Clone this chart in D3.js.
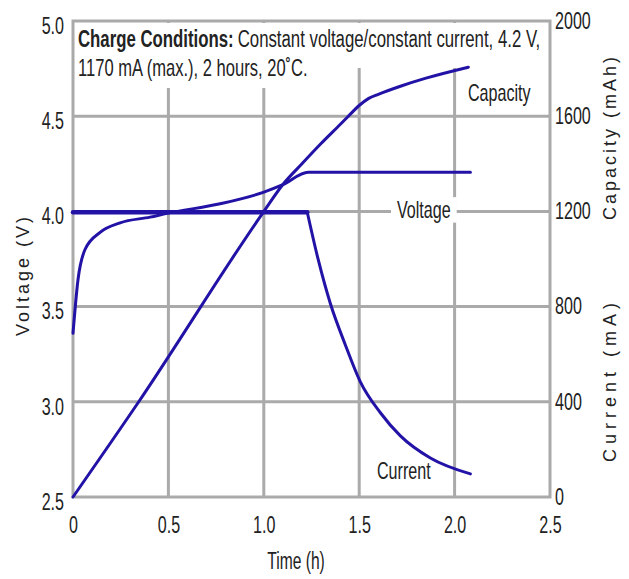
<!DOCTYPE html>
<html>
<head>
<meta charset="utf-8">
<script src="https://cdn.jsdelivr.net/npm/d3@7"></script>
<style>
  body { margin: 0; background: #fff; }
  text { font-family: "Liberation Sans", Arial, sans-serif; }
</style>
</head>
<body>
<script>
// Values
const timeTicks = [0, 0.5, 1.0, 1.5, 2.0, 2.5];
const voltTicks = [2.5, 3.0, 3.5, 4.0, 4.5, 5.0];
const mahTicks = [0, 400, 800, 1200, 1600, 2000];

// time (h) -> voltage (V)
const voltageT = [0, 0.026, 0.063, 0.142, 0.247, 0.404, 0.493, 0.771, 0.997, 1.10, 1.233, 2.083];
const voltageV = [3.36, 3.64, 3.80, 3.89, 3.94, 3.97, 3.99, 4.04, 4.10, 4.14, 4.205, 4.205];

// time (h) -> charge current (mA)
const currentT = [0, 1.228, 1.285, 1.348, 1.427, 1.506, 1.611, 1.716, 1.873, 2.083];
const currentI = [1196, 1196, 998, 815, 640, 484, 354, 257, 164, 97];

// time (h) -> capacity (mAh)
const capacityT = [0, 0.341, 0.997, 1.10, 1.2, 1.3, 1.4, 1.443, 1.5, 1.55, 1.6, 1.716, 1.85, 2.072];
const capacityC = [0, 396, 1196, 1313, 1400, 1485, 1565, 1600, 1645, 1675, 1692, 1726, 1760, 1806];

const W = 629, H = 579;
const LEFT = 73, RIGHT = 550, TOP = 21, BOTTOM = 497;
const LINE = '#2213a6';
const GRID = '#aaaaaa';
const INK = '#222';

const svg = d3.select('body').append('svg')
  .attr('width', W).attr('height', H);

const gridLayer = svg.append('g');
const bgLayer = svg.append('g');
const lineLayer = svg.append('g');
const textLayer = svg.append('g');

const x = d3.scaleLinear().domain([0, 2.5]).range([LEFT, RIGHT]);
const yV = d3.scaleLinear().domain([2.5, 5.0]).range([BOTTOM, TOP]);
const yMA = d3.scaleLinear().domain([0, 2000]).range([BOTTOM, TOP]);

// squeeze text horizontally around its anchor x (the original uses a condensed face)
function condense(sel, f) {
  sel.each(function() {
    const ax = +(this.getAttribute('x') || 0);
    d3.select(this).attr('transform', `translate(${ax * (1 - f)},0) scale(${f},1)`);
  });
  return sel;
}

// grid
gridLayer.selectAll('line.h')
  .data(voltTicks.slice(1, -1))
  .enter().append('line')
    .attr('x1', LEFT).attr('x2', RIGHT)
    .attr('y1', d => yV(d)).attr('y2', d => yV(d))
    .attr('stroke', GRID).attr('stroke-width', 3);
gridLayer.selectAll('line.v')
  .data(timeTicks.slice(1, -1))
  .enter().append('line')
    .attr('y1', TOP).attr('y2', BOTTOM)
    .attr('x1', d => x(d)).attr('x2', d => x(d))
    .attr('stroke', GRID).attr('stroke-width', 3);
gridLayer.append('rect')
  .attr('x', LEFT).attr('y', TOP)
  .attr('width', RIGHT - LEFT).attr('height', BOTTOM - TOP)
  .attr('fill', 'none').attr('stroke', GRID).attr('stroke-width', 3);

// axes (labels only)
function styleAxis(g) {
  g.select('.domain').remove();
  g.selectAll('.tick line').remove();
  g.selectAll('text').attr('font-size', 23).attr('fill', INK);
  condense(g.selectAll('text'), 0.7);
}
textLayer.append('g').attr('transform', `translate(${LEFT - 6},5)`)
  .call(d3.axisLeft(yV).tickValues(voltTicks).tickFormat(d3.format('.1f')).tickSize(0))
  .call(styleAxis);
textLayer.append('g').attr('transform', `translate(${RIGHT + 2},0)`)
  .call(d3.axisRight(yMA).tickValues(mahTicks).tickFormat(d3.format('d')).tickSize(0))
  .call(styleAxis);
textLayer.append('g').attr('transform', `translate(0,${BOTTOM + 17})`)
  .call(d3.axisBottom(x).tickValues(timeTicks).tickFormat(d => d === 0 ? '0' : d3.format('.1f')(d)).tickSize(0))
  .call(styleAxis);

// axis titles
condense(textLayer.append('text')
  .attr('x', 296).attr('y', 569).attr('text-anchor', 'middle')
  .attr('font-size', 23).attr('fill', INK).text('Time (h)'), 0.68);
textLayer.append('text')
  .attr('transform', 'translate(29,275) rotate(-90)')
  .attr('text-anchor', 'middle').attr('font-size', 18).attr('letter-spacing', 3)
  .attr('fill', INK).text('Voltage (V)');
textLayer.append('text')
  .attr('transform', 'translate(616,137) rotate(-90)')
  .attr('text-anchor', 'middle').attr('font-size', 18).attr('letter-spacing', 3)
  .attr('fill', INK).text('Capacity (mAh)');
textLayer.append('text')
  .attr('transform', 'translate(616,380) rotate(-90)')
  .attr('text-anchor', 'middle').attr('font-size', 18).attr('letter-spacing', 5)
  .attr('fill', INK).text('Current (mA)');

// data lines
const line = d3.line().curve(d3.curveMonotoneX);
lineLayer.attr('fill', 'none').attr('stroke', LINE)
  .attr('stroke-width', 3).attr('stroke-linejoin', 'round').attr('stroke-linecap', 'round');

lineLayer.append('path')
  .attr('d', line(capacityT.map((t, i) => [x(t), yMA(capacityC[i])])));
lineLayer.append('path')
  .attr('d', line(voltageT.map((t, i) => [x(t), yV(voltageV[i])])));
lineLayer.append('path')
  .attr('d', d3.line()(currentT.slice(0, 2).map((t, i) => [x(t), yMA(currentI[i])])))
  .attr('stroke-width', 4.5);
lineLayer.append('path')
  .attr('d', line(currentT.slice(1).map((t, i) => [x(t), yMA(currentI[i + 1])])));

// title block
const bold = condense(textLayer.append('text')
  .attr('x', 78).attr('y', 47).attr('font-size', 23).attr('font-weight', 'bold')
  .attr('fill', INK).text('Charge Conditions:'), 0.73);
const boldW = bold.node().getBBox().width * 0.73;
const rest = condense(textLayer.append('text')
  .attr('x', 78 + boldW + 4).attr('y', 47).attr('font-size', 23)
  .attr('fill', INK).text('Constant voltage/constant current, 4.2 V,'), 0.73);
const t2 = condense(textLayer.append('text')
  .attr('x', 78).attr('y', 76).attr('font-size', 23)
  .attr('fill', INK).text('1170 mA (max.), 2 hours, 20\u02DAC.'), 0.72);

const restEnd = 78 + boldW + 4 + rest.node().getBBox().width * 0.73;
bgLayer.append('rect')
  .attr('x', LEFT + 2).attr('y', TOP + 2)
  .attr('width', restEnd + 4 - LEFT).attr('height', 68 - TOP - 2)
  .attr('fill', '#fff');
const t2End = 78 + t2.node().getBBox().width * 0.72;
bgLayer.append('rect')
  .attr('x', LEFT + 2).attr('y', 66)
  .attr('width', t2End + 5 - LEFT).attr('height', 22)
  .attr('fill', '#fff');

// in-plot curve labels with white backing
function boxedText(px, py, str) {
  const t = condense(textLayer.append('text')
    .attr('x', px).attr('y', py)
    .attr('font-size', 23).attr('fill', INK).text(str), 0.7);
  const b = t.node().getBBox();
  bgLayer.append('rect')
    .attr('x', px - 6).attr('y', b.y)
    .attr('width', b.width * 0.7 + 12).attr('height', b.height)
    .attr('fill', '#fff');
}
boxedText(468, 101, 'Capacity');
boxedText(397, 218, 'Voltage');
boxedText(377, 479, 'Current');
</script>
</body>
</html>
